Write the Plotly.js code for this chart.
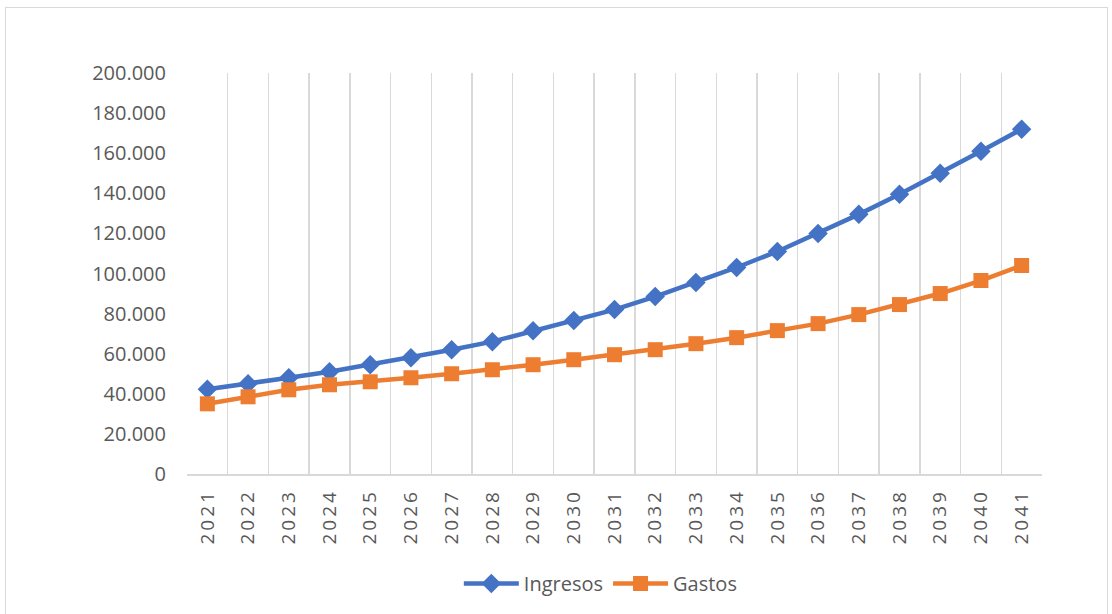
<!DOCTYPE html>
<html>
<head>
<meta charset="utf-8">
<script src="https://cdn.plot.ly/plotly-3.0.1.min.js"></script>
<style>
html,body{margin:0;padding:0;background:#fff;}
#wrap{position:relative;width:1112px;height:614px;}
#frame{position:absolute;left:5px;top:7px;width:1103px;height:610px;border:1.5px solid #d9d9d9;box-sizing:border-box;pointer-events:none;}
#chart{position:absolute;left:0;top:0;width:1112px;height:614px;}
.xtick text{letter-spacing:3px;}
</style>
</head>
<body>
<div id="wrap"><div id="chart"></div><div id="frame"></div></div>
<script>
const years = ["2021","2022","2023","2024","2025","2026","2027","2028","2029","2030","2031","2032","2033","2034","2035","2036","2037","2038","2039","2040","2041"];
const ingresos = [42300,45000,48000,51000,54500,58000,62000,66000,71500,76500,82000,88500,95500,103000,111000,120000,129500,139500,150000,161000,172000];
const gastos = [35000,38500,42000,44500,46000,48000,50000,52000,54500,57000,59500,62000,65000,68000,71500,75000,79500,84500,90000,96500,104000];
const yTicks = [0,20000,40000,60000,80000,100000,120000,140000,160000,180000,200000];

const traces = [
  {x: years, y: ingresos, name: "Ingresos", type: "scatter", mode: "lines+markers",
   line: {color: "#4472C4", width: 4.5}, marker: {symbol: "diamond", size: 15, color: "#4472C4"}},
  {x: years, y: gastos, name: "Gastos", type: "scatter", mode: "lines+markers",
   line: {color: "#ED7D31", width: 4.5}, marker: {symbol: "square", size: 15, color: "#ED7D31"}}
];
const layout = {
  width: 1112, height: 614,
  margin: {l: 187, r: 70, t: 73, b: 139},
  paper_bgcolor: "rgba(0,0,0,0)", plot_bgcolor: "#fff",
  separators: ",.",
  font: {family: "Open Sans, Liberation Sans, sans-serif", color: "#595959", size: 19},
  showlegend: true,
  legend: {orientation: "h", x: 0.484, xanchor: "center", y: -0.27, yanchor: "middle", font: {size: 20, color: "#595959"}, itemwidth: 55, tracegroupgap: 0},
  xaxis: {type: "category", range: [-0.5, 20.5], autorange: false, tickson: "boundaries", showgrid: true, gridcolor: "#d9d9d9", gridwidth: 1.5,
          showline: true, linecolor: "#d9d9d9", linewidth: 1.5, ticks: "", tickangle: -90,
          ticklabelstandoff: 6, tickfont: {size: 19, color: "#595959"}, fixedrange: true, mirror: false},
  yaxis: {range: [0, 200000], autorange: false, tickvals: yTicks, tickformat: ",d", showgrid: false, zeroline: false,
          showline: false, ticks: "", tickfont: {size: 20, color: "#595959"}, ticklabelstandoff: 20, fixedrange: true}
};
Plotly.newPlot("chart", traces, layout, {displayModeBar: false, staticPlot: true});
</script>
</body>
</html>
